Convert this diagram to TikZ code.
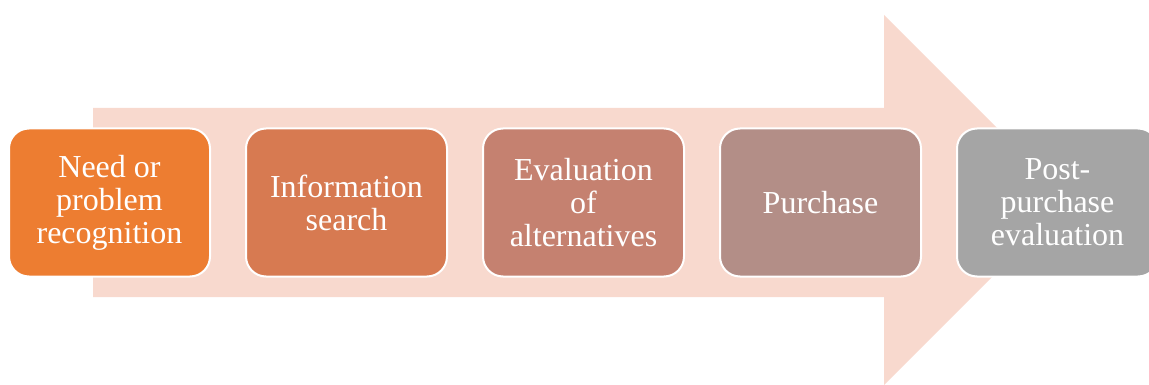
\documentclass[tikz,border=0pt]{standalone}
\usepackage{fontspec}
\setmainfont{Liberation Serif}
\usepackage{tikz}
\usetikzlibrary{positioning}

\definecolor{arrowpink}{HTML}{F8D9CE}
\definecolor{needcol}{HTML}{ED7D31}
\definecolor{searchcol}{HTML}{D77A51}
\definecolor{evalcol}{HTML}{C58170}
\definecolor{buycol}{HTML}{B38E87}
\definecolor{postcol}{HTML}{A5A5A5}

\begin{document}
\begin{tikzpicture}[x=1pt,y=-1pt,
  stage/.style={draw=white, line width=2pt, rounded corners=20pt,
    minimum width=201pt, minimum height=148pt, inner sep=0pt, outer sep=0pt,
    align=center, text=white, font=\fontsize{32}{33}\selectfont},
  node distance=36pt]
\useasboundingbox (0,0) rectangle (1149,385);
\fill[arrowpink] (93,108) -- (884,108) -- (884,15) -- (1069,200)
  -- (884,385) -- (884,297) -- (93,297) -- cycle;
\node[stage, fill=needcol, anchor=west] (need) at (9,202.5) {Need or\\problem\\recognition};
\node[stage, fill=searchcol, right=of need] (search) {Information\\search};
\node[stage, fill=evalcol, right=of search] (evaluation) {Evaluation\\of\\alternatives};
\node[stage, fill=buycol, right=of evaluation] (purchase) {Purchase};
\node[stage, fill=postcol, right=of purchase] (post) {Post-\\purchase\\evaluation};

\end{tikzpicture}
\end{document}
